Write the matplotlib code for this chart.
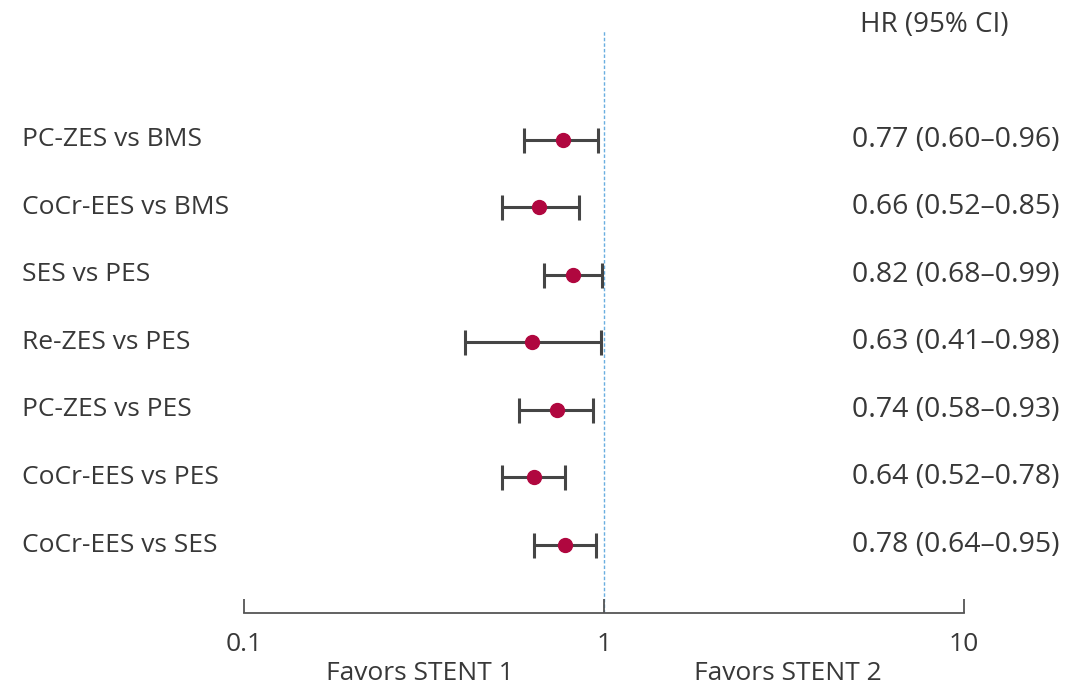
import matplotlib.pyplot as plt
import matplotlib.transforms as mtransforms

comparisons = ['PC-ZES vs BMS', 'CoCr-EES vs BMS', 'SES vs PES', 'Re-ZES vs PES',
               'PC-ZES vs PES', 'CoCr-EES vs PES', 'CoCr-EES vs SES']
hr = [0.77, 0.66, 0.82, 0.63, 0.74, 0.64, 0.78]
ci_low = [0.60, 0.52, 0.68, 0.41, 0.58, 0.52, 0.64]
ci_high = [0.96, 0.85, 0.99, 0.98, 0.93, 0.78, 0.95]
xticks = [0.1, 1, 10]
xtick_labels = ['0.1', '1', '10']

plt.rcParams['font.family'] = ['Open Sans', 'DejaVu Sans']
txt = '#383838'

fig = plt.figure(figsize=(10.86, 6.89), dpi=100)
W, H = 1086, 689
ax = fig.add_axes([244 / W, 1 - 613 / H, (964 - 244) / W, (613 - 30) / H])

rows = list(range(len(comparisons)))
err = [[h - lo for h, lo in zip(hr, ci_low)], [hi - h for h, hi in zip(hr, ci_high)]]
ax.errorbar(hr, rows, xerr=err, fmt='none', ecolor='#454545', elinewidth=2.2,
            capsize=9, capthick=2.2, zorder=2)
ax.plot(hr, rows, 'o', color='#b0073f', markersize=10, zorder=3)
ax.axvline(1, color='#6aaee0', linestyle=(0, (2.5, 1.5)), linewidth=1, zorder=1)

ax.set_xscale('log')
ax.set_xlim(0.1, 10)
ax.set_ylim((613 - 140) / 67.5, (30 - 140) / 67.5)
for s in ['top', 'right', 'left']:
    ax.spines[s].set_visible(False)
ax.spines['bottom'].set_color('#555555')
ax.spines['bottom'].set_linewidth(1.3)
ax.set_yticks([])
ax.set_xticks(xticks)
ax.set_xticklabels(xtick_labels)
ax.minorticks_off()
ax.tick_params(axis='x', direction='in', length=10, width=1.3, color='#555555',
               labelsize=19, labelcolor=txt, pad=14)

# row labels on the left, HR (CI) column on the right
trans = mtransforms.blended_transform_factory(fig.transFigure, ax.transData)
for i, (name, h, lo, hi) in enumerate(zip(comparisons, hr, ci_low, ci_high)):
    ax.text(22 / W, i, name, transform=trans, fontsize=19, color=txt,
            va='center', ha='left')
    ax.text(1060 / W, i, f'{h:.2f} ({lo:.2f}\u2013{hi:.2f})', transform=trans,
            fontsize=20.5, color=txt, va='center', ha='right')

fig.text(934 / W, 1 - 25 / H, 'HR (95% CI)', fontsize=20, color=txt,
         ha='center', va='center')
fig.text(420 / W, 1 - 673 / H, 'Favors STENT 1', fontsize=19, color=txt,
         ha='center', va='center')
fig.text(788 / W, 1 - 673 / H, 'Favors STENT 2', fontsize=19, color=txt,
         ha='center', va='center')

fig.savefig('out.png', dpi=100)
